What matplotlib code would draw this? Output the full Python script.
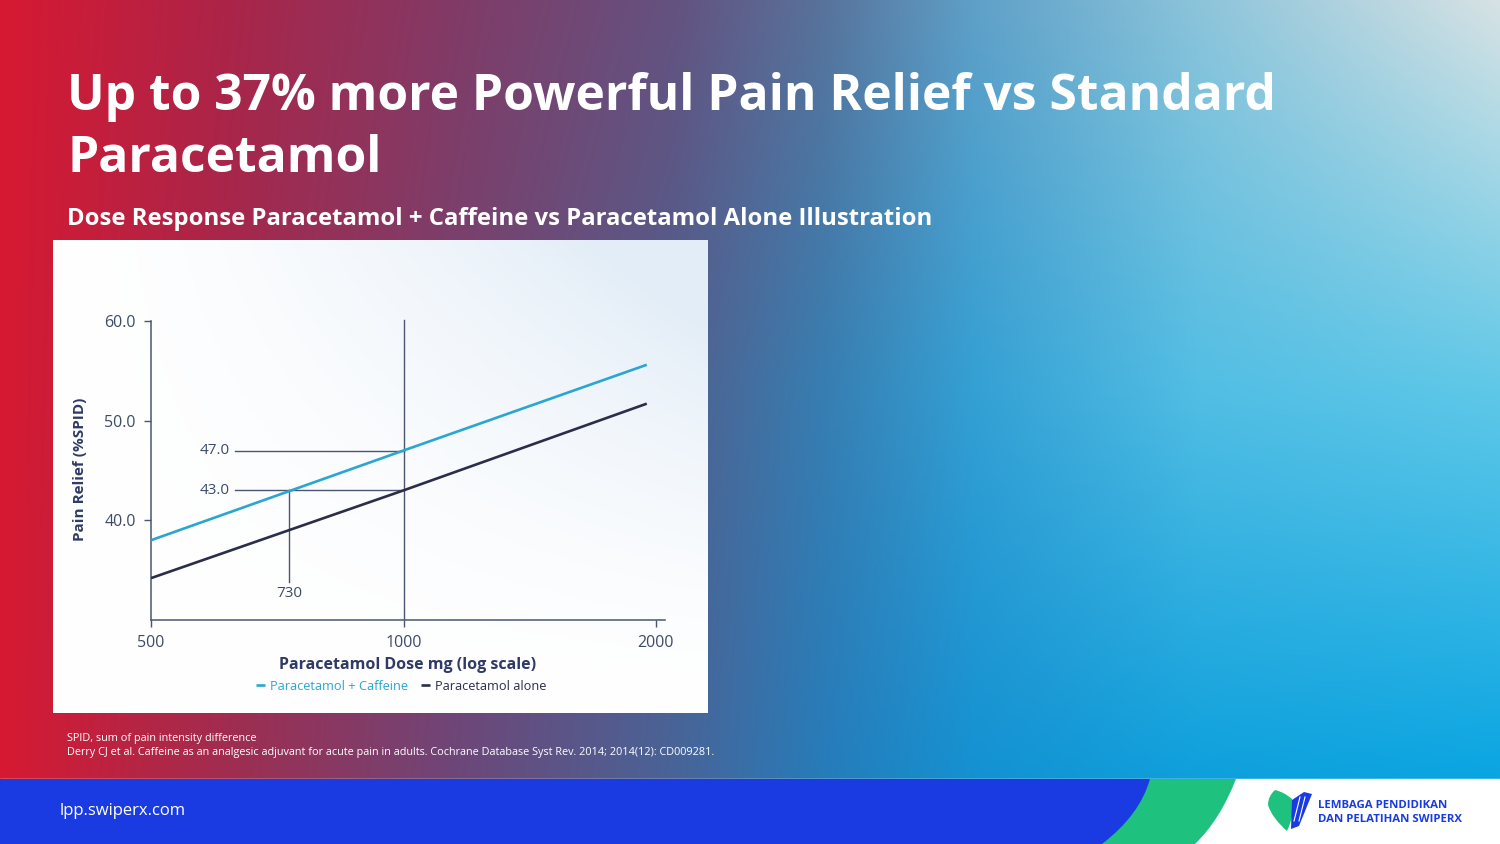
import matplotlib
matplotlib.use("Agg")
import matplotlib.pyplot as plt
import numpy as np
from matplotlib.patches import Rectangle, PathPatch, Polygon
from matplotlib.path import Path

# ---- data ----
dose = [500, 1000, 1950]
combo = [38.0, 47.0, 55.6]          # Paracetamol + Caffeine
alone = [34.2, 43.0, 51.7]          # Paracetamol alone
x_ticks = [500, 1000, 2000]
y_ticks = [40.0, 50.0, 60.0]
ref_dose = 730
ref_high = 47.0
ref_low = 43.0
hline_start = 630

CYAN = "#2aa6cf"
DARK = "#2a2e48"
AXIS = "#4b5572"
TXT = "#3d4a68"
NAVY = "#2f3b66"

W, H = 1500, 844
FONT = "Open Sans"
plt.rcParams["font.family"] = [FONT, "DejaVu Sans"]

fig = plt.figure(figsize=(15, 8.44), dpi=100)

# ---- background gradient (bilinear from three rows of stops) ----
bg = fig.add_axes([0, 0, 1, 1])
bg.set_xlim(0, W)
bg.set_ylim(H, 0)
bg.axis("off")

xs = np.array([0, 0.15, 0.3, 0.45, 0.55, 0.65, 0.8, 1.0])
top = np.array([(215, 25, 50), (172, 36, 72), (130, 58, 102), (100, 82, 128),
                (88, 115, 155), (95, 160, 200), (140, 196, 218), (215, 226, 228)])
mid = np.array([(215, 25, 50), (165, 40, 76), (120, 66, 110), (80, 96, 142),
                (55, 126, 178), (52, 160, 212), (82, 190, 228), (95, 200, 232)])
bot = np.array([(215, 25, 50), (160, 45, 80), (110, 70, 120), (72, 100, 152),
                (38, 124, 186), (20, 145, 210), (14, 160, 220), (10, 165, 226)])
gx = np.linspace(0, 1, 600)
rows = []
for stops in (top, mid, bot):
    rows.append(np.stack([np.interp(gx, xs, stops[:, c]) for c in range(3)], axis=-1))
gy = np.linspace(0, 1, 300)[:, None, None]
img = np.where(gy < 0.5,
               rows[0] * (1 - gy / 0.5) + rows[1] * (gy / 0.5),
               rows[1] * (1 - (gy - 0.5) / 0.5) + rows[2] * ((gy - 0.5) / 0.5))
bg.imshow(img / 255.0, extent=(0, W, 779, 0), aspect="auto", interpolation="bilinear", zorder=0)

# bottom bar
bg.add_patch(Rectangle((0, 779), W, 65, color="white", zorder=1))
green = Path([(1100, 844), (1150, 779), (1236, 779), (1220, 820), (1195, 844), (1100, 844)],
             [Path.MOVETO, Path.LINETO, Path.LINETO, Path.CURVE3, Path.CURVE3, Path.CLOSEPOLY])
bg.add_patch(PathPatch(green, color="#1ec27e", lw=0, zorder=2))
blue = Path([(0, 779), (1150, 779), (1140, 815), (1102, 844), (0, 844), (0, 779)],
            [Path.MOVETO, Path.LINETO, Path.CURVE3, Path.CURVE3, Path.LINETO, Path.CLOSEPOLY])
bg.add_patch(PathPatch(blue, color="#1a3be2", lw=0, zorder=3))

# logo
heart = Path([(1287, 831), (1272, 818), (1268, 805), (1268, 796), (1275, 790),
              (1284, 792), (1292, 799), (1296, 812), (1287, 831)],
             [Path.MOVETO, Path.CURVE3, Path.CURVE3, Path.CURVE3, Path.CURVE3,
              Path.CURVE3, Path.CURVE3, Path.CURVE3, Path.CURVE3])
bg.add_patch(PathPatch(heart, color="#1ec27e", lw=0, zorder=4))
bg.add_patch(Polygon([(1292, 800), (1304, 792), (1312, 794), (1299, 826), (1291, 829)],
                     closed=True, color="#1a3be2", lw=0, zorder=5))
for dx in (0, 5):
    bg.plot([1300 + dx, 1294 + dx], [797, 821], color="white", lw=0.8, zorder=6)
bg.text(1318, 806, "LEMBAGA PENDIDIKAN", fontsize=8.2, fontweight="bold",
        color="#1a3be2", va="center", ha="left", zorder=6)
bg.text(1318, 820, "DAN PELATIHAN SWIPERX", fontsize=8.2, fontweight="bold",
        color="#1a3be2", va="center", ha="left", zorder=6)
bg.text(60, 811, "lpp.swiperx.com", fontsize=12, color="white",
        va="center", ha="left", zorder=6)

# titles
bg.text(67, 110, "Up to 37% more Powerful Pain Relief vs Standard", fontsize=35.8,
        fontweight="bold", color="white", va="baseline", ha="left")
bg.text(67, 172, "Paracetamol", fontsize=35.8, fontweight="bold", color="white",
        va="baseline", ha="left")
bg.text(67, 225, "Dose Response Paracetamol + Caffeine vs Paracetamol Alone Illustration",
        fontsize=17.2, fontweight="bold", color="white", va="baseline", ha="left")

# footnotes
bg.text(67, 739, "SPID, sum of pain intensity difference", fontsize=7.8,
        color="white", va="center", ha="left")
bg.text(67, 752, "Derry CJ et al. Caffeine as an analgesic adjuvant for acute pain in adults. "
        "Cochrane Database Syst Rev. 2014; 2014(12): CD009281.", fontsize=7.8,
        color="white", va="center", ha="left")

# chart panel with faint blue tint at top right
px = np.linspace(0, 1, 200)[None, :]
py = np.linspace(0, 1, 150)[:, None]
tint = np.clip(px * (1 - py) * 1.2, 0, 1) ** 1.5
panel = np.ones((150, 200, 3))
panel[..., 0] -= 0.11 * tint
panel[..., 1] -= 0.07 * tint
panel[..., 2] -= 0.03 * tint
bg.imshow(panel, extent=(53, 708, 713, 240), aspect="auto", zorder=7)
bg.set_xlim(0, W)
bg.set_ylim(H, 0)

# ---- chart axes ----
x_left, x_right = 500, 2050
y_bot, y_top = 30, 60.3
left_px = 151
right_px = left_px + np.log2(x_right / x_left) * 252.5
bot_px = 620
top_px = bot_px - (y_top - y_bot) * 9.97
ax = fig.add_axes([left_px / W, (H - bot_px) / H, (right_px - left_px) / W,
                   (bot_px - top_px) / H])
ax.patch.set_alpha(0)
ax.set_xscale("log")
ax.set_xlim(x_left, x_right)
ax.set_ylim(y_bot, y_top)

ax.plot(dose, combo, color=CYAN, lw=1.9, solid_capstyle="butt", zorder=4,
        label="Paracetamol + Caffeine")
ax.plot(dose, alone, color=DARK, lw=1.9, solid_capstyle="butt", zorder=4,
        label="Paracetamol alone")

# guide lines
ax.plot([1000, 1000], [y_bot, 60.1], color=AXIS, lw=1.0, zorder=3)
ax.plot([hline_start, 1000], [ref_high, ref_high], color=AXIS, lw=1.0, zorder=3)
ax.plot([hline_start, 1000], [ref_low, ref_low], color=AXIS, lw=1.0, zorder=3)
ax.plot([ref_dose, ref_dose], [33.8, ref_low], color=AXIS, lw=1.0, zorder=3)
ax.text(hline_start * 0.985, ref_high, f"{ref_high:.1f}", ha="right", va="center",
        fontsize=11, color=TXT)
ax.text(hline_start * 0.985, ref_low, f"{ref_low:.1f}", ha="right", va="center",
        fontsize=11, color=TXT)
ax.text(ref_dose, 32.7, f"{ref_dose}", ha="center", va="center", fontsize=11, color=TXT)

for s in ("top", "right"):
    ax.spines[s].set_visible(False)
ax.spines["left"].set_bounds(y_bot, 60)
for s in ("left", "bottom"):
    ax.spines[s].set_color(AXIS)
    ax.spines[s].set_linewidth(1.1)

ax.set_xticks(x_ticks)
ax.set_xticklabels([str(t) for t in x_ticks])
ax.xaxis.set_minor_locator(matplotlib.ticker.NullLocator())
ax.set_yticks(y_ticks)
ax.set_yticklabels([f"{t:.1f}" for t in y_ticks])
ax.tick_params(axis="both", colors=AXIS, labelcolor=TXT, labelsize=11.5,
               length=5, width=1.0)
ax.tick_params(axis="y", pad=6)
ax.tick_params(axis="x", pad=6)

ax.set_xlabel("Paracetamol Dose mg (log scale)", fontsize=11.5, fontweight="bold",
              color=NAVY, labelpad=4)
ax.set_ylabel("Pain Relief (%SPID)", fontsize=11, fontweight="bold", color=NAVY)
ax.yaxis.set_label_coords(-0.124, 0.5)

leg = ax.legend(loc="center", bbox_to_anchor=(401 / W, (H - 686) / H),
                bbox_transform=fig.transFigure, ncol=2, frameon=False,
                fontsize=9.2, handlelength=0.7, handletextpad=0.4,
                columnspacing=1.0, labelcolor="linecolor")

fig.savefig("out.png", dpi=100)
